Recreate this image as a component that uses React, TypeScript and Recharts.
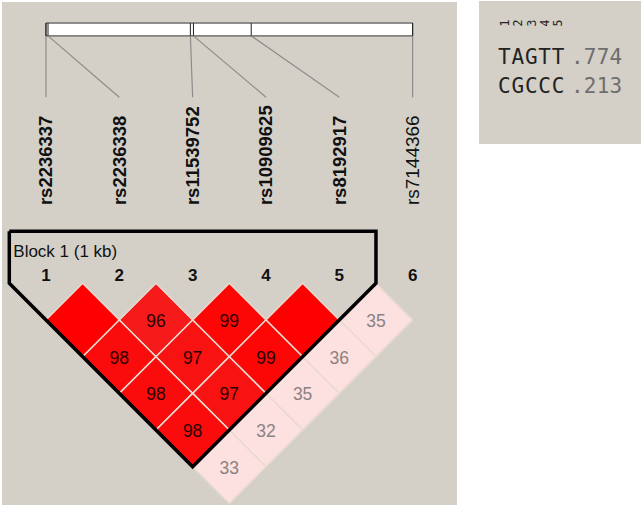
import React from "react";
import { ScatterChart, Scatter, XAxis, YAxis, ReferenceArea, ReferenceLine } from "recharts";

// markers (Haploview LD plot), positions are bp offsets
const markerNames = ["rs2236337", "rs2236338", "rs11539752", "rs10909625", "rs8192917", "rs7144366"];
const markerPositions = [0, 10, 705, 720, 1002, 1790];
const markerInBlock = [true, true, true, true, true, false];

// pairwise D' (x100); 100 is drawn as an empty red cell
const pairI = [1, 2, 3, 4, 5, 1, 2, 3, 4, 1, 2, 3, 1, 2, 1];
const pairJ = [2, 3, 4, 5, 6, 3, 4, 5, 6, 4, 5, 6, 5, 6, 6];
const pairD = [100, 96, 99, 100, 35, 98, 97, 99, 36, 98, 97, 35, 98, 32, 33];
const pairStrong = [true, true, true, true, false, true, true, true, false, true, true, false, true, false, false];

const blockTitle = "Block 1 (1 kb)";
const blockStart = 1;
const blockEnd = 5;

const haplotypes = ["TAGTT", "CGCCC"];
const hapFreqs = [".774", ".213"];

const W = 642;
const H = 507;
const M = { top: 8, right: 192.7, bottom: 3.5, left: 9.3 };
const unitX = (W - M.left - M.right) / 6;
const unitY = (H - M.top - M.bottom) / 13.5;

// vertical layout rows, in axis units
const BAR_TOP = -7.09;
const BAR_BOTTOM = -6.74;
const LINE_END = -5.07;
const NAME_BASE = -2.13;
const BLOCK_TOP = -1.42;
const TITLE_ROW = -0.72;
const NUM_ROW = -0.2;

const BG = "#d4d0c8";
const FONT = "'Liberation Sans', Arial, sans-serif";
const MONO = "'DejaVu Sans Mono', monospace";

const physX = (p: number) =>
  1 + (5 * (p - markerPositions[0])) / (markerPositions[markerPositions.length - 1] - markerPositions[0]);

const cells = pairD.map((d, k) => ({
  x: (pairI[k] + pairJ[k]) / 2,
  y: pairJ[k] - pairI[k],
  d,
  strong: pairStrong[k],
}));

const markers = markerNames.map((name, k) => ({ x: k + 1, y: NAME_BASE, name, bold: markerInBlock[k] }));
const numbers = markerNames.map((_, k) => ({ x: k + 1, y: NUM_ROW, n: k + 1 }));

const span = blockEnd - blockStart;
const outline = [
  { x: blockStart - 0.5, y: BLOCK_TOP },
  { x: blockEnd + 0.5, y: BLOCK_TOP },
  { x: blockEnd + 0.5, y: 0 },
  { x: (blockStart + blockEnd) / 2, y: span + 1 },
  { x: blockStart - 0.5, y: 0 },
  { x: blockStart - 0.5, y: BLOCK_TOP },
];

function cellColor(d: number, strong: boolean) {
  if (!strong) return "#fde0e0";
  if (d >= 100) return "#ff0000";
  if (d >= 99) return "#fd0606";
  if (d >= 98) return "#fb0c0c";
  if (d >= 97) return "#f91212";
  return "#f61a1a";
}

function Diamond(props: any) {
  const { cx, cy, payload } = props;
  const hw = unitX / 2;
  const hh = unitY;
  const pts = `${cx},${cy - hh} ${cx + hw},${cy} ${cx},${cy + hh} ${cx - hw},${cy}`;
  return (
    <g>
      <polygon points={pts} fill={cellColor(payload.d, payload.strong)} stroke="#eadbcf" strokeWidth={1.5} />
      {payload.d < 100 && (
        <text x={cx} y={cy + 1} textAnchor="middle" dominantBaseline="central" fontFamily={FONT} fontSize={17.5}
          fill={payload.strong ? "#2a0000" : "#8a8282"}>
          {payload.d}
        </text>
      )}
    </g>
  );
}

function MarkerName(props: any) {
  const { cx, cy, payload } = props;
  return (
    <text x={cx} y={cy} transform={`rotate(-90 ${cx} ${cy})`} textAnchor="start" dominantBaseline="central"
      fontFamily={FONT} fontSize={payload.bold ? 18.5 : 19} fontWeight={payload.bold ? 700 : 400} fill="#111">
      {payload.name}
    </text>
  );
}

function MarkerNumber(props: any) {
  const { cx, cy, payload } = props;
  return (
    <text x={cx} y={cy} textAnchor="middle" dominantBaseline="central" fontFamily={FONT} fontSize={17} fontWeight={700} fill="#111">
      {payload.n}
    </text>
  );
}

function Title(props: any) {
  const { cx, cy } = props;
  return (
    <text x={cx + 4} y={cy} textAnchor="start" fontFamily={FONT} fontSize={17} fill="#111">
      {blockTitle}
    </text>
  );
}

function HapPanel() {
  const cw = 13.4;
  const x0 = 498;
  return (
    <svg width={162} height={143} style={{ position: "absolute", left: 479, top: 1, background: BG }}>
      {haplotypes[0].split("").map((_, k) => {
        const x = x0 - 479 + cw * k + cw / 2;
        return (
          <text key={k} x={x} y={22} transform={`rotate(-90 ${x} 22)`} textAnchor="middle" dominantBaseline="central"
            fontFamily={MONO} fontSize={11.5} fill="#222">
            {k + 1}
          </text>
        );
      })}
      {haplotypes.map((h, r) => (
        <g key={h}>
          <text x={x0 - 479} y={63 + r * 29} fontFamily={MONO} fontSize={21} letterSpacing={0.8} fill="#222">{h}</text>
          <text x={571 - 479} y={63 + r * 29} fontFamily={MONO} fontSize={21} letterSpacing={0.2} fill="#6e6e6e">{hapFreqs[r]}</text>
        </g>
      ))}
    </svg>
  );
}

export default function App() {
  return (
    <div style={{ position: "absolute", left: 0, top: 0, width: W, height: H, background: "#fff" }}>
      <div style={{ position: "absolute", left: 2, top: 2, width: 455, height: 503, background: BG }} />
      <HapPanel />
      <div style={{ position: "absolute", left: 0, top: 0 }}>
        <ScatterChart width={W} height={H} margin={M}>
          <XAxis type="number" dataKey="x" domain={[0.5, 6.5]} hide />
          <YAxis type="number" dataKey="y" domain={[-7.5, 6]} reversed hide />
          <ReferenceArea x1={1} x2={6} y1={BAR_TOP} y2={BAR_BOTTOM} fill="#fff" fillOpacity={1} stroke="#333" strokeWidth={1} />
          {markerPositions.map((p, k) => (
            <ReferenceLine key={"t" + k} segment={[{ x: physX(p), y: BAR_TOP }, { x: physX(p), y: BAR_BOTTOM }]} stroke="#222" strokeWidth={1} />
          ))}
          {markerPositions.map((p, k) => (
            <ReferenceLine key={"l" + k} segment={[{ x: physX(p), y: BAR_BOTTOM }, { x: k + 1, y: LINE_END }]} stroke="#8c8c8c" strokeWidth={1.2} />
          ))}
          <Scatter data={cells} shape={Diamond} isAnimationActive={false} />
          <Scatter data={outline} line={{ stroke: "#000", strokeWidth: 3.5, strokeLinejoin: "miter" }} shape={() => <g />} isAnimationActive={false} />
          <Scatter data={markers} shape={MarkerName} isAnimationActive={false} />
          <Scatter data={numbers} shape={MarkerNumber} isAnimationActive={false} />
          <Scatter data={[{ x: blockStart - 0.5, y: TITLE_ROW }]} shape={Title} isAnimationActive={false} />
        </ScatterChart>
      </div>
    </div>
  );
}
